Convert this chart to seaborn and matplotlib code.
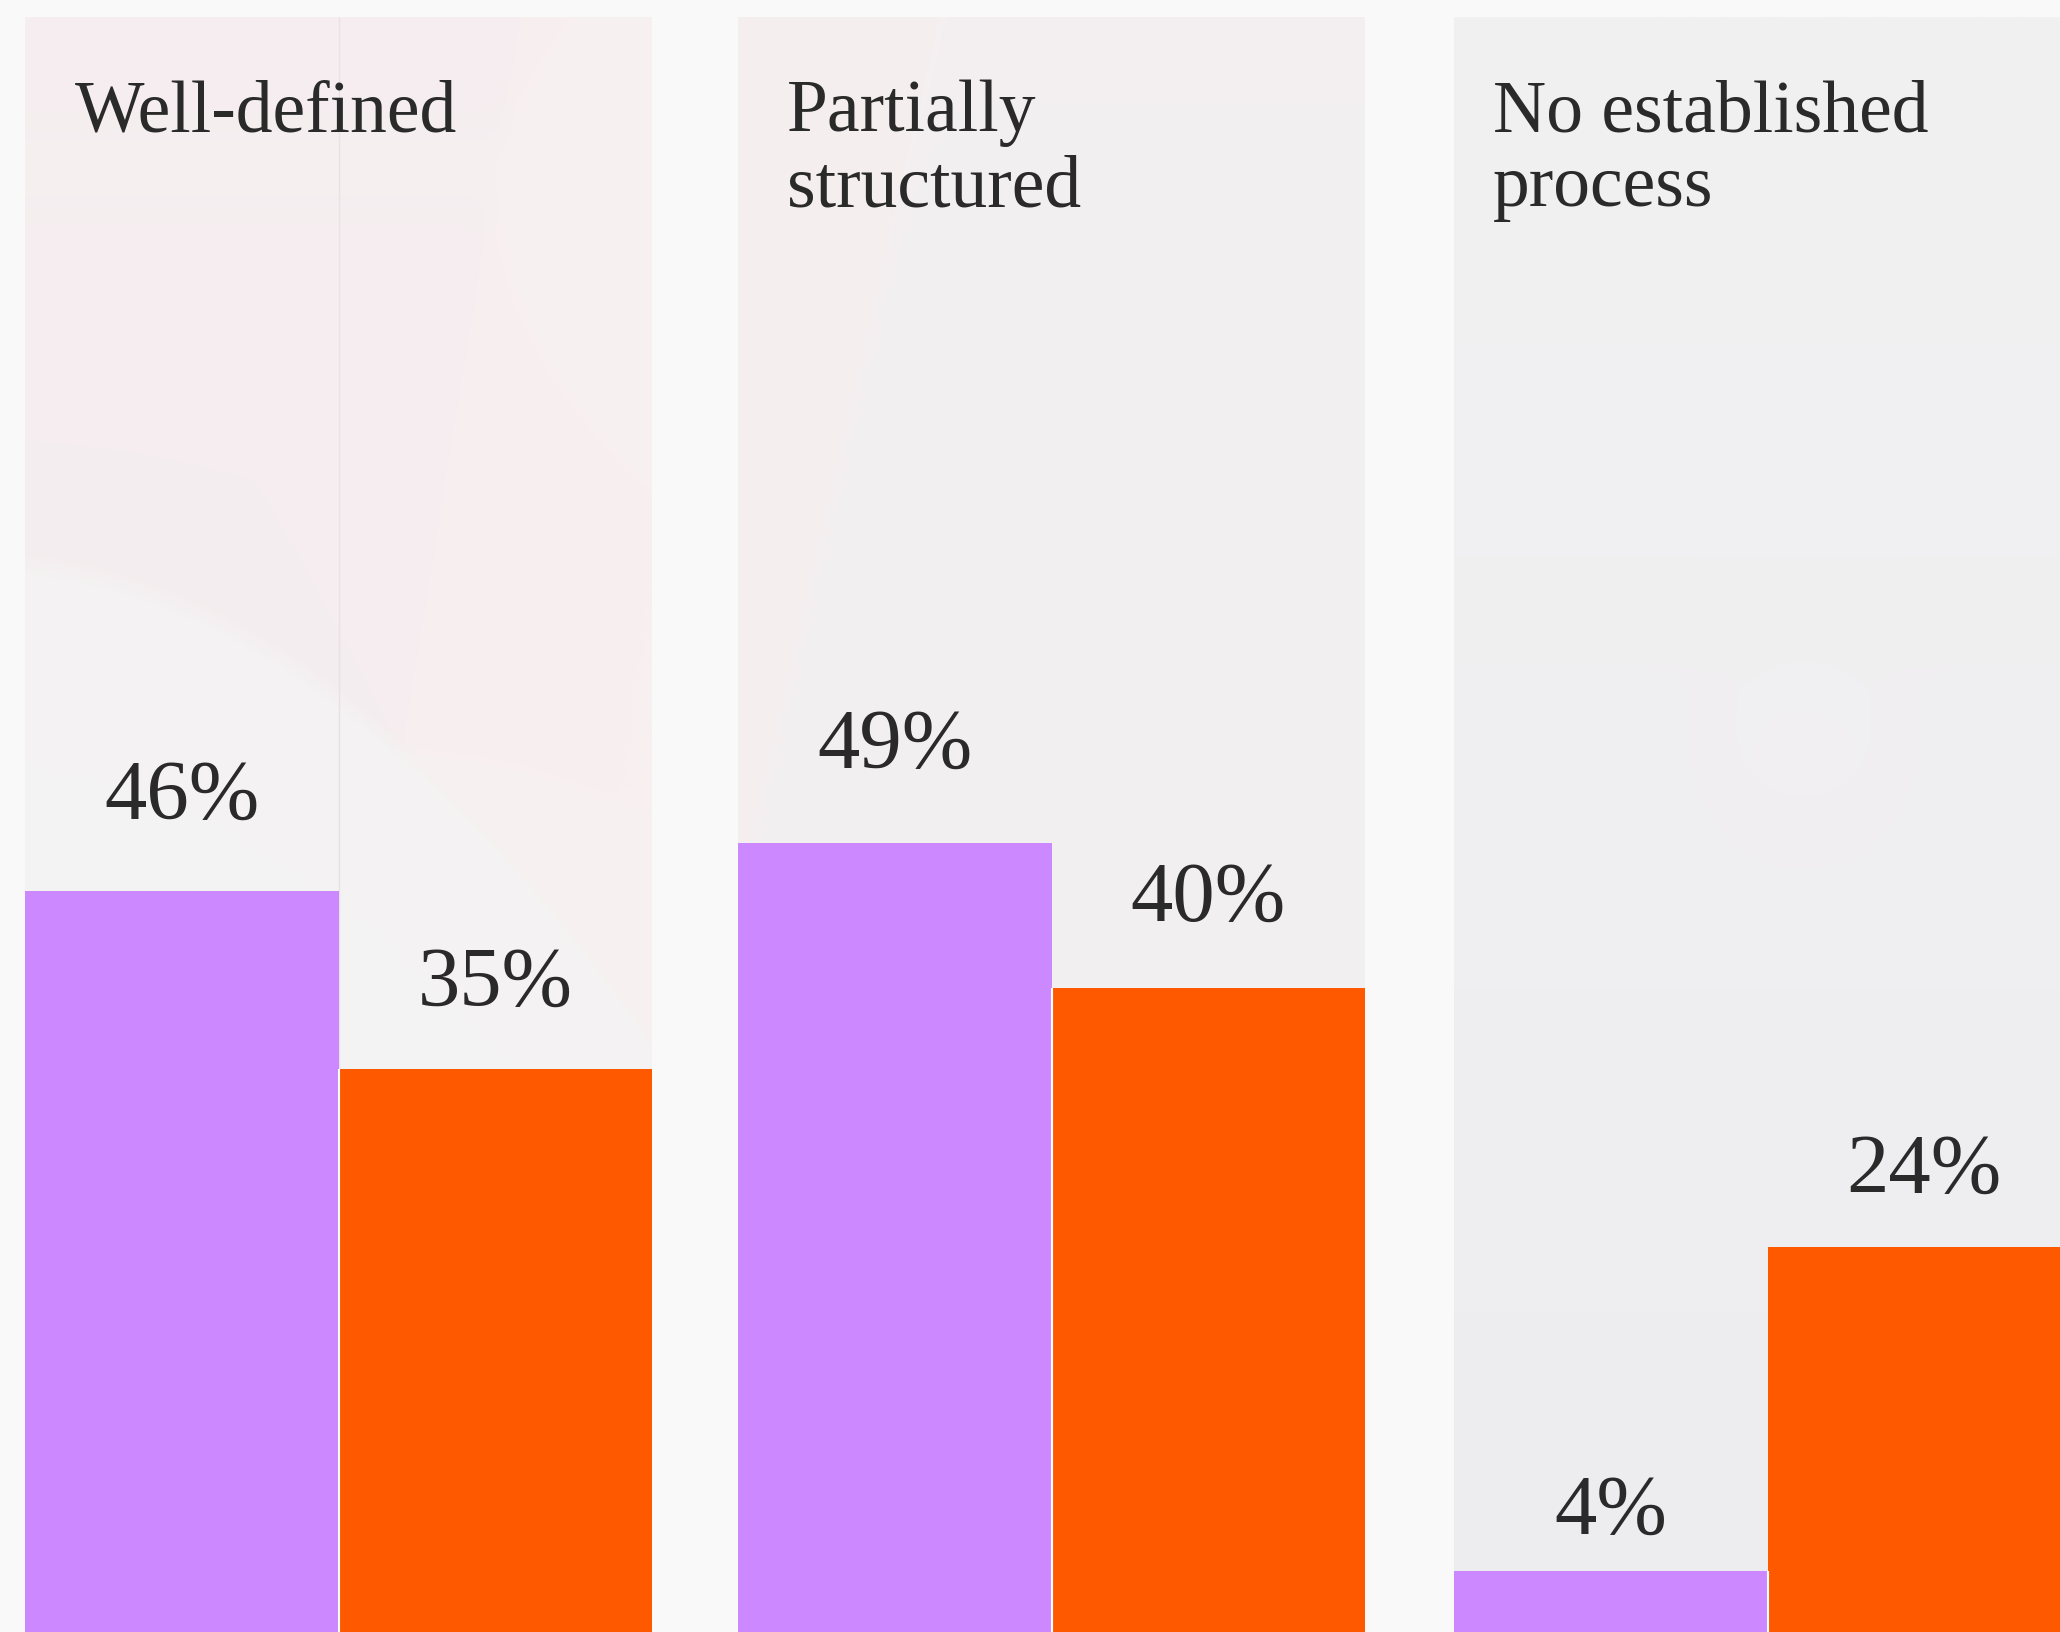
import numpy as np
import pandas as pd
import matplotlib
matplotlib.use("Agg")
import matplotlib.pyplot as plt
import seaborn as sns

# ---- data -------------------------------------------------------------
categories = ["Well-defined", "Partially\nstructured", "No established\nprocess"]
series = ["A", "B"]
values_a = [46, 49, 4]
values_b = [35, 40, 24]

# ---- style ------------------------------------------------------------
PURPLE = "#CC88FF"
ORANGE = "#FF5900"
INK = "#2A2A2A"
FIG_BG = "#F9F9F9"

sns.set_theme(style="white")
plt.rcParams["font.family"] = ["Liberation Serif", "DejaVu Serif"]

W, H = 2060, 1633
fig = plt.figure(figsize=(W / 100, H / 100), dpi=100, facecolor=FIG_BG)

panel_left_px = [25, 738, 1454]
panel_w_px = 627
panel_top_px = 18
panel_bottom_px = 1637
title_dx_px = [50, 49, 39]


def sig(z):
    return 1.0 / (1.0 + np.exp(-z))


def background(kind, nh=405, nw=157):
    """Soft pastel backdrop for one panel (rows top -> bottom)."""
    v, u = np.mgrid[0:1:nh * 1j, 0:1:nw * 1j]
    px = u * panel_w_px
    py = v * (panel_bottom_px - panel_top_px)
    if kind == 0:
        base = np.array([245, 237, 239], float)
        band = np.array([248, 240, 240], float)
        low = np.array([244, 243, 243], float)
        img = np.ones((nh, nw, 3)) * base
        # lighter diagonal sheet on the right
        bx = 0.80 - 0.42 * v
        m = sig((u - bx) * 90)[..., None]
        img = img * (1 - m) + band * m
        # pale dome in the lower-left
        yb = 547 + 0.101 * px + 0.001047 * px ** 2
        m2 = sig((py - yb) / 6)[..., None]
        img = img * (1 - m2) + low * m2
        # faint light streak near the top
        m3 = (np.exp(-((py - 150) / 60) ** 2) * 0.5)[..., None]
        img = img * (1 - m3) + np.array([247, 242, 242]) * m3
    elif kind == 1:
        base = np.array([242, 240, 241], float)
        img = np.ones((nh, nw, 3)) * base
        bx = 0.32 - 0.60 * v
        m = sig((bx - u) * 60)[..., None]
        img = img * (1 - m) + np.array([246, 238, 239]) * m
        m3 = (np.exp(-(v / 0.12) ** 2) * 0.4)[..., None]
        img = img * (1 - m3) + np.array([245, 239, 240]) * m3
    else:
        top = np.array([242, 241, 242], float)
        bot = np.array([237, 236, 239], float)
        img = top * (1 - v[..., None]) + bot * v[..., None]
        d = np.hypot(px - 350, py - 757)
        m = (sig((85 - d) / 20) * 0.3)[..., None]
        img = img * (1 - m) + np.array([245, 240, 244]) * m
    return np.clip(img / 255.0, 0, 1)


for i, cat in enumerate(categories):
    left = panel_left_px[i] / W
    bottom = (H - panel_bottom_px) / H
    width = panel_w_px / W
    height = (panel_bottom_px - panel_top_px) / H
    ax = fig.add_axes([left, bottom, width, height])

    ax.imshow(background(i), extent=(-0.5, 0.5, 0, 100), aspect="auto",
              interpolation="bilinear", zorder=0)
    if i == 0:
        ax.axvline(0, color="#E9E1E4", lw=1.0, zorder=0.5)

    df = pd.DataFrame({
        "category": [cat, cat],
        "series": series,
        "value": [values_a[i], values_b[i]],
    })
    sns.barplot(data=df, x="category", y="value", hue="series",
                palette=[PURPLE, ORANGE], saturation=1, width=1.0, gap=0,
                linewidth=0, legend=False, ax=ax, zorder=2)

    ax.set_xlim(-0.5, 0.5)
    ax.set_ylim(0, 100)

    # thin white seam between the two bars
    lower = min(values_a[i], values_b[i])
    ax.plot([0, 0], [0, lower], color="white", lw=1.5, zorder=2.5,
            solid_capstyle="butt")
    ax.set_axis_off()

    # value labels above each bar
    for p in ax.patches:
        h = p.get_height()
        if not np.isfinite(h):
            continue
        xc = p.get_x() + p.get_width() / 2
        ax.text(xc, 1.051 * h + 2.2, f"{h:.0f}%", ha="center", va="baseline",
                fontsize=61, color=INK, zorder=3)

    # panel heading, one line at a time
    tx = title_dx_px[i] / panel_w_px
    for k, line in enumerate(cat.split("\n")):
        ax.text(tx, 0.930 - 0.0463 * k, line, transform=ax.transAxes,
                ha="left", va="baseline", fontsize=53, color=INK, zorder=3)

fig.savefig("out.png", dpi=100, facecolor=FIG_BG)
